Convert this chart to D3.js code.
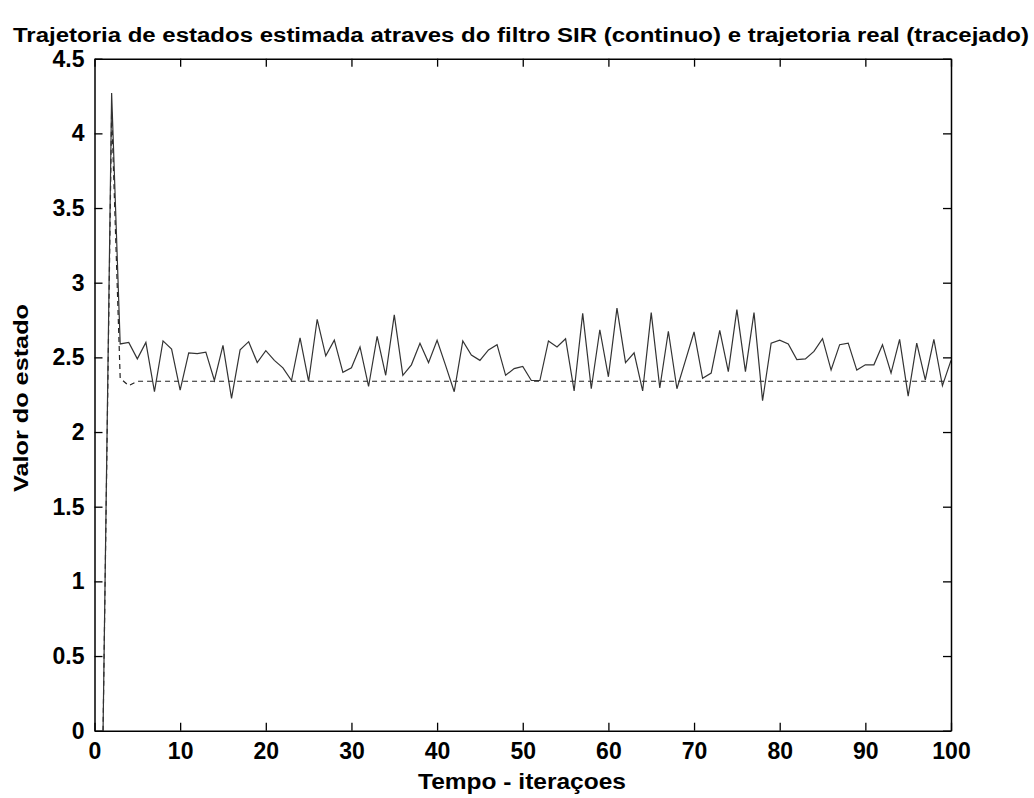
<!DOCTYPE html>
<html>
<head>
<meta charset="utf-8">
<script src="https://cdn.jsdelivr.net/npm/d3@7"></script>
<style>
  html, body { margin: 0; padding: 0; background: #fff; }
  svg { display: block; }
  text { font-family: "Liberation Sans", Arial, sans-serif; font-weight: bold; fill: #000; }
</style>
</head>
<body>
<svg id="chart" width="1034" height="798"></svg>
<script>
// ---- data ----
const titleText = "Trajetoria de estados estimada atraves do filtro SIR (continuo) e trajetoria real (tracejado)";
const xLabel = "Tempo - iteraçoes";
const yLabel = "Valor do estado";
const iterations = d3.range(1, 101);
const estimated = [
  0.00, 4.27, 2.59, 2.60, 2.49, 2.60, 2.27, 2.61, 2.555, 2.28,
  2.53, 2.525, 2.535, 2.345, 2.58, 2.225, 2.55, 2.605, 2.465, 2.545,
  2.48, 2.43, 2.345, 2.63, 2.34, 2.755, 2.51, 2.615, 2.40, 2.43,
  2.57, 2.305, 2.64, 2.38, 2.785, 2.38, 2.45, 2.595, 2.465, 2.615,
  2.445, 2.27, 2.61, 2.515, 2.48, 2.55, 2.585, 2.38, 2.425, 2.44,
  2.345, 2.345, 2.61, 2.57, 2.625, 2.275, 2.795, 2.29, 2.685, 2.37,
  2.83, 2.465, 2.53, 2.275, 2.80, 2.295, 2.675, 2.29, 2.48, 2.67,
  2.36, 2.395, 2.68, 2.405, 2.82, 2.405, 2.80, 2.21, 2.595, 2.615,
  2.59, 2.485, 2.49, 2.54, 2.625, 2.415, 2.585, 2.595, 2.415, 2.45,
  2.45, 2.585, 2.395, 2.62, 2.24, 2.595, 2.35, 2.62, 2.31, 2.48
];
const real = [
  0.00, 4.15, 2.36, 2.31, 2.34, 2.34, 2.34, 2.34, 2.34, 2.34,
  2.34, 2.34, 2.34, 2.34, 2.34, 2.34, 2.34, 2.34, 2.34, 2.34,
  2.34, 2.34, 2.34, 2.34, 2.34, 2.34, 2.34, 2.34, 2.34, 2.34,
  2.34, 2.34, 2.34, 2.34, 2.34, 2.34, 2.34, 2.34, 2.34, 2.34,
  2.34, 2.34, 2.34, 2.34, 2.34, 2.34, 2.34, 2.34, 2.34, 2.34,
  2.34, 2.34, 2.34, 2.34, 2.34, 2.34, 2.34, 2.34, 2.34, 2.34,
  2.34, 2.34, 2.34, 2.34, 2.34, 2.34, 2.34, 2.34, 2.34, 2.34,
  2.34, 2.34, 2.34, 2.34, 2.34, 2.34, 2.34, 2.34, 2.34, 2.34,
  2.34, 2.34, 2.34, 2.34, 2.34, 2.34, 2.34, 2.34, 2.34, 2.34,
  2.34, 2.34, 2.34, 2.34, 2.34, 2.34, 2.34, 2.34, 2.34, 2.34
];
const xTicks = [0, 10, 20, 30, 40, 50, 60, 70, 80, 90, 100];
const yTicks = [0, 0.5, 1, 1.5, 2, 2.5, 3, 3.5, 4, 4.5];
const yTickLabels = ["0", "0.5", "1", "1.5", "2", "2.5", "3", "3.5", "4", "4.5"];

// ---- layout ----
const L = 94.5, R = 951, T = 58.7, B = 730.7;
const svg = d3.select("#chart");
const x = d3.scaleLinear().domain([0, 100]).range([L, R]);
const y = d3.scaleLinear().domain([0, 4.5]).range([B, T]);

// data lines
const line = d3.line().x((d, i) => x(iterations[i])).y(d => y(d));
svg.append("path").datum(real)
  .attr("fill", "none").attr("stroke", "#222").attr("stroke-width", 1.2)
  .attr("stroke-dasharray", "5,4").attr("d", line);
svg.append("path").datum(estimated)
  .attr("fill", "none").attr("stroke", "#333").attr("stroke-width", 1.2)
  .attr("stroke-linejoin", "miter").attr("d", line);

// axes (ticks inward, box)
const tickFont = 23;
const gx = svg.append("g").attr("transform", `translate(0,${B})`)
  .call(d3.axisBottom(x).tickValues(xTicks).tickSizeInner(-8).tickSizeOuter(0).tickPadding(12).tickFormat(d3.format("d")));
const gxTop = svg.append("g").attr("transform", `translate(0,${T})`)
  .call(d3.axisTop(x).tickValues(xTicks).tickSizeInner(-8).tickSizeOuter(0).tickFormat(""));
const gy = svg.append("g").attr("transform", `translate(${L},0)`)
  .call(d3.axisLeft(y).tickValues(yTicks).tickSizeInner(-8).tickSizeOuter(0).tickPadding(10)
    .tickFormat((d, i) => yTickLabels[i]));
const gyR = svg.append("g").attr("transform", `translate(${R},0)`)
  .call(d3.axisRight(y).tickValues(yTicks).tickSizeInner(-8).tickSizeOuter(0).tickFormat(""));

[gx, gxTop, gy, gyR].forEach(g => {
  g.select(".domain").attr("stroke", "#000").attr("stroke-width", 1.5);
  g.selectAll(".tick line").attr("stroke", "#000").attr("stroke-width", 1.3);
  g.selectAll("text").attr("font-size", tickFont).attr("font-family", "Liberation Sans, Arial, sans-serif")
    .attr("font-weight", "bold").attr("fill", "#000");
});

// title & labels
svg.append("text").attr("x", 521).attr("y", 42).attr("text-anchor", "middle")
  .attr("font-size", 20).attr("textLength", 1016).attr("lengthAdjust", "spacingAndGlyphs")
  .text(titleText);
svg.append("text").attr("x", 522).attr("y", 789).attr("text-anchor", "middle")
  .attr("font-size", 22).attr("textLength", 208).attr("lengthAdjust", "spacingAndGlyphs")
  .text(xLabel);
svg.append("text").attr("transform", `translate(28,398) rotate(-90)`).attr("text-anchor", "middle")
  .attr("font-size", 21).attr("textLength", 188).attr("lengthAdjust", "spacingAndGlyphs")
  .text(yLabel);
</script>
</body>
</html>
